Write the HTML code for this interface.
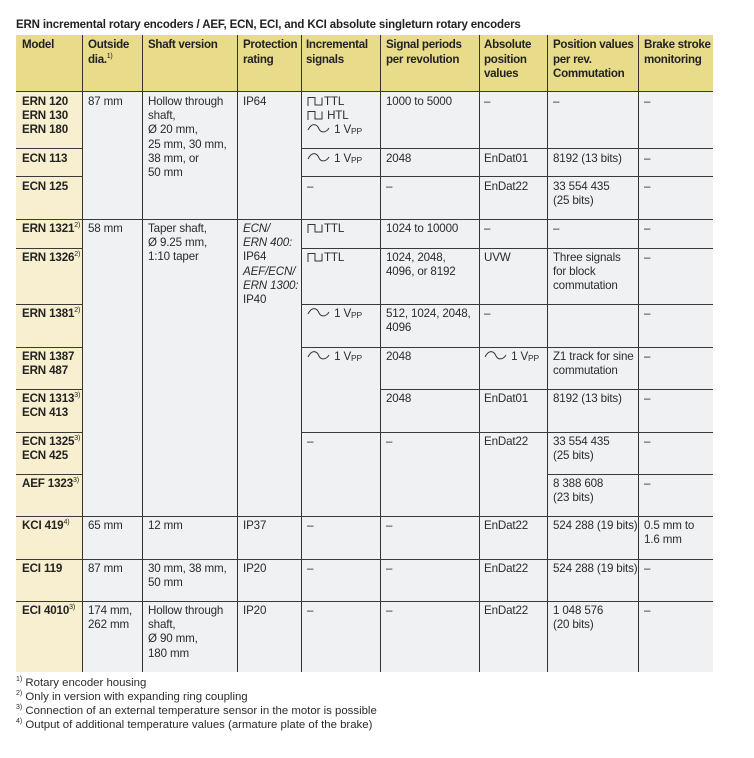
<!DOCTYPE html>
<html><head><meta charset="utf-8">
<style>
*{margin:0;padding:0;box-sizing:border-box}
body{width:754px;height:758px;background:#fff;position:relative;font-family:"Liberation Sans",Arial,sans-serif;color:#2b2b2b;overflow:hidden}
.a{position:absolute}
.t{position:absolute;font-size:11.6px;line-height:14.2px;white-space:nowrap;letter-spacing:-0.15px}
.h{font-weight:bold;font-size:11.6px;line-height:14.5px;color:#222;letter-spacing:-0.3px}
.b{font-weight:bold;color:#222}
.v{position:absolute;width:1.3px;background:#333;top:35px;height:637px}
.l{position:absolute;height:1.3px;background:#3a3a3a}
sup{font-size:7px;vertical-align:5px;line-height:0;font-weight:normal}
sub{font-size:8.5px;vertical-align:-1px;line-height:0}
svg{vertical-align:-1px}
.i{font-style:italic}
</style></head><body>
<div class="t h" style="left:16px;top:18px;font-size:11.5px;letter-spacing:-0.15px">ERN incremental rotary encoders / AEF, ECN, ECI, and KCI absolute singleturn rotary encoders</div>

<div class="a" style="left:16px;top:35px;width:697px;height:56px;background:#e8dc8b"></div>
<div class="a" style="left:16px;top:91px;width:66px;height:581px;background:#f7efcf"></div>
<div class="a" style="left:82px;top:91px;width:631px;height:581px;background:#f0f1f3"></div>

<div class="v" style="left:81.5px"></div>
<div class="v" style="left:141.5px"></div>
<div class="v" style="left:236.5px"></div>
<div class="v" style="left:300.5px"></div>
<div class="v" style="left:380px"></div>
<div class="v" style="left:478.5px"></div>
<div class="v" style="left:547px"></div>
<div class="v" style="left:638px"></div>

<div class="l" style="left:16px;width:697px;top:90.5px;height:1.6px"></div>
<div class="l" style="left:16px;width:66px;top:148px"></div><div class="l" style="left:301px;width:412px;top:148px"></div>
<div class="l" style="left:16px;width:66px;top:176px"></div><div class="l" style="left:301px;width:412px;top:176px"></div>
<div class="l" style="left:16px;width:697px;top:219px"></div>
<div class="l" style="left:16px;width:66px;top:247.5px"></div><div class="l" style="left:301px;width:412px;top:247.5px"></div>
<div class="l" style="left:16px;width:66px;top:304px"></div><div class="l" style="left:301px;width:412px;top:304px"></div>
<div class="l" style="left:16px;width:66px;top:346.5px"></div><div class="l" style="left:301px;width:412px;top:346.5px"></div>
<div class="l" style="left:16px;width:66px;top:389px"></div><div class="l" style="left:380px;width:333px;top:389px"></div>
<div class="l" style="left:16px;width:66px;top:431.5px"></div><div class="l" style="left:301px;width:412px;top:431.5px"></div>
<div class="l" style="left:16px;width:66px;top:474px"></div><div class="l" style="left:547px;width:166px;top:474px"></div>
<div class="l" style="left:16px;width:697px;top:516px"></div>
<div class="l" style="left:16px;width:697px;top:558.5px"></div>
<div class="l" style="left:16px;width:697px;top:601px"></div>

<!-- header -->
<div class="t h" style="left:22px;top:38px">Model</div>
<div class="t h" style="left:88px;top:38px">Outside<br>dia.<sup>1)</sup></div>
<div class="t h" style="left:148px;top:38px">Shaft version</div>
<div class="t h" style="left:243px;top:38px">Protection<br>rating</div>
<div class="t h" style="left:306px;top:38px">Incremental<br>signals</div>
<div class="t h" style="left:386px;top:38px">Signal periods<br>per revolution</div>
<div class="t h" style="left:484px;top:38px">Absolute<br>position<br>values</div>
<div class="t h" style="left:553px;top:38px">Position values<br>per rev.<br>Commutation</div>
<div class="t h" style="left:644px;top:38px">Brake stroke<br>monitoring</div>

<!-- model column -->
<div class="t b" style="left:22px;top:95px">ERN 120<br>ERN 130<br>ERN 180</div>
<div class="t b" style="left:22px;top:152px">ECN 113</div>
<div class="t b" style="left:22px;top:180px">ECN 125</div>
<div class="t b" style="left:22px;top:222px">ERN 1321<sup>2)</sup></div>
<div class="t b" style="left:22px;top:251px">ERN 1326<sup>2)</sup></div>
<div class="t b" style="left:22px;top:307px">ERN 1381<sup>2)</sup></div>
<div class="t b" style="left:22px;top:350px">ERN 1387<br>ERN 487</div>
<div class="t b" style="left:22px;top:392px">ECN 1313<sup>3)</sup><br>ECN 413</div>
<div class="t b" style="left:22px;top:435px">ECN 1325<sup>3)</sup><br>ECN 425</div>
<div class="t b" style="left:22px;top:477px">AEF 1323<sup>3)</sup></div>
<div class="t b" style="left:22px;top:519px">KCI 419<sup>4)</sup></div>
<div class="t b" style="left:22px;top:562px">ECI 119</div>
<div class="t b" style="left:22px;top:604px">ECI 4010<sup>3)</sup></div>

<!-- outside -->
<div class="t" style="left:88px;top:95px">87 mm</div>
<div class="t" style="left:88px;top:222px">58 mm</div>
<div class="t" style="left:88px;top:519px">65 mm</div>
<div class="t" style="left:88px;top:562px">87 mm</div>
<div class="t" style="left:88px;top:604px">174 mm,<br>262 mm</div>

<!-- shaft -->
<div class="t" style="left:148px;top:95px">Hollow through<br>shaft,<br>Ø 20 mm,<br>25 mm, 30 mm,<br>38 mm, or<br>50 mm</div>
<div class="t" style="left:148px;top:222px">Taper shaft,<br>Ø 9.25 mm,<br>1:10 taper</div>
<div class="t" style="left:148px;top:519px">12 mm</div>
<div class="t" style="left:148px;top:562px">30 mm, 38 mm,<br>50 mm</div>
<div class="t" style="left:148px;top:604px">Hollow through<br>shaft,<br>Ø 90 mm,<br>180 mm</div>

<!-- protection -->
<div class="t" style="left:243px;top:95px">IP64</div>
<div class="t" style="left:243px;top:222px"><span class="i">ECN/<br>ERN 400:</span><br>IP64<br><span class="i">AEF/ECN/<br>ERN 1300:</span><br>IP40</div>
<div class="t" style="left:243px;top:519px">IP37</div>
<div class="t" style="left:243px;top:562px">IP20</div>
<div class="t" style="left:243px;top:604px">IP20</div>

<!-- incremental -->
<div class="t" style="left:307px;top:95px"><svg width="17" height="10"><polyline points="1,10 1,1.5 8,1.5 8,9 15,9 15,1.5" fill="none" stroke="#333" stroke-width="1"/></svg>TTL<br><svg width="17" height="10"><polyline points="1,10 1,1.5 8,1.5 8,9 15,9 15,1.5" fill="none" stroke="#333" stroke-width="1"/></svg> HTL<br><svg width="24" height="11"><path d="M1,7 C5,-1 10,1 12,6 C14,10 19,10 22,5" fill="none" stroke="#333" stroke-width="1"/></svg> 1 V<sub>PP</sub></div>
<div class="t" style="left:307px;top:152px"><svg width="24" height="11"><path d="M1,7 C5,-1 10,1 12,6 C14,10 19,10 22,5" fill="none" stroke="#333" stroke-width="1"/></svg> 1 V<sub>PP</sub></div>
<div class="t" style="left:307px;top:180px">–</div>
<div class="t" style="left:307px;top:222px"><svg width="17" height="10"><polyline points="1,10 1,1.5 8,1.5 8,9 15,9 15,1.5" fill="none" stroke="#333" stroke-width="1"/></svg>TTL</div>
<div class="t" style="left:307px;top:251px"><svg width="17" height="10"><polyline points="1,10 1,1.5 8,1.5 8,9 15,9 15,1.5" fill="none" stroke="#333" stroke-width="1"/></svg>TTL</div>
<div class="t" style="left:307px;top:307px"><svg width="24" height="11"><path d="M1,7 C5,-1 10,1 12,6 C14,10 19,10 22,5" fill="none" stroke="#333" stroke-width="1"/></svg> 1 V<sub>PP</sub></div>
<div class="t" style="left:307px;top:350px"><svg width="24" height="11"><path d="M1,7 C5,-1 10,1 12,6 C14,10 19,10 22,5" fill="none" stroke="#333" stroke-width="1"/></svg> 1 V<sub>PP</sub></div>
<div class="t" style="left:307px;top:435px">–</div>
<div class="t" style="left:307px;top:519px">–</div>
<div class="t" style="left:307px;top:562px">–</div>
<div class="t" style="left:307px;top:604px">–</div>

<!-- signal periods -->
<div class="t" style="left:386px;top:95px">1000 to 5000</div>
<div class="t" style="left:386px;top:152px">2048</div>
<div class="t" style="left:386px;top:180px">–</div>
<div class="t" style="left:386px;top:222px">1024 to 10000</div>
<div class="t" style="left:386px;top:251px">1024, 2048,<br>4096, or 8192</div>
<div class="t" style="left:386px;top:307px">512, 1024, 2048,<br>4096</div>
<div class="t" style="left:386px;top:350px">2048</div>
<div class="t" style="left:386px;top:392px">2048</div>
<div class="t" style="left:386px;top:435px">–</div>
<div class="t" style="left:386px;top:519px">–</div>
<div class="t" style="left:386px;top:562px">–</div>
<div class="t" style="left:386px;top:604px">–</div>

<!-- absolute -->
<div class="t" style="left:484px;top:95px">–</div>
<div class="t" style="left:484px;top:152px">EnDat01</div>
<div class="t" style="left:484px;top:180px">EnDat22</div>
<div class="t" style="left:484px;top:222px">–</div>
<div class="t" style="left:484px;top:251px">UVW</div>
<div class="t" style="left:484px;top:307px">–</div>
<div class="t" style="left:484px;top:350px"><svg width="24" height="11"><path d="M1,7 C5,-1 10,1 12,6 C14,10 19,10 22,5" fill="none" stroke="#333" stroke-width="1"/></svg> 1 V<sub>PP</sub></div>
<div class="t" style="left:484px;top:392px">EnDat01</div>
<div class="t" style="left:484px;top:435px">EnDat22</div>
<div class="t" style="left:484px;top:519px">EnDat22</div>
<div class="t" style="left:484px;top:562px">EnDat22</div>
<div class="t" style="left:484px;top:604px">EnDat22</div>

<!-- position -->
<div class="t" style="left:553px;top:95px">–</div>
<div class="t" style="left:553px;top:152px">8192 (13 bits)</div>
<div class="t" style="left:553px;top:180px">33 554 435<br>(25 bits)</div>
<div class="t" style="left:553px;top:222px">–</div>
<div class="t" style="left:553px;top:251px">Three signals<br>for block<br>commutation</div>
<div class="t" style="left:553px;top:350px">Z1 track for sine<br>commutation</div>
<div class="t" style="left:553px;top:392px">8192 (13 bits)</div>
<div class="t" style="left:553px;top:435px">33 554 435<br>(25 bits)</div>
<div class="t" style="left:553px;top:477px">8 388 608<br>(23 bits)</div>
<div class="t" style="left:553px;top:519px">524 288 (19 bits)</div>
<div class="t" style="left:553px;top:562px">524 288 (19 bits)</div>
<div class="t" style="left:553px;top:604px">1 048 576<br>(20 bits)</div>

<!-- brake -->
<div class="t" style="left:644px;top:95px">–</div>
<div class="t" style="left:644px;top:152px">–</div>
<div class="t" style="left:644px;top:180px">–</div>
<div class="t" style="left:644px;top:222px">–</div>
<div class="t" style="left:644px;top:251px">–</div>
<div class="t" style="left:644px;top:307px">–</div>
<div class="t" style="left:644px;top:350px">–</div>
<div class="t" style="left:644px;top:392px">–</div>
<div class="t" style="left:644px;top:435px">–</div>
<div class="t" style="left:644px;top:477px">–</div>
<div class="t" style="left:644px;top:519px">0.5 mm to<br>1.6 mm</div>
<div class="t" style="left:644px;top:562px">–</div>
<div class="t" style="left:644px;top:604px">–</div>

<!-- footnotes -->
<div class="t" style="left:16px;top:676px;font-size:11.4px;line-height:14px;letter-spacing:0"><sup>1)</sup> Rotary encoder housing<br><sup>2)</sup> Only in version with expanding ring coupling<br><sup>3)</sup> Connection of an external temperature sensor in the motor is possible<br><sup>4)</sup> Output of additional temperature values (armature plate of the brake)</div>
</body></html>
